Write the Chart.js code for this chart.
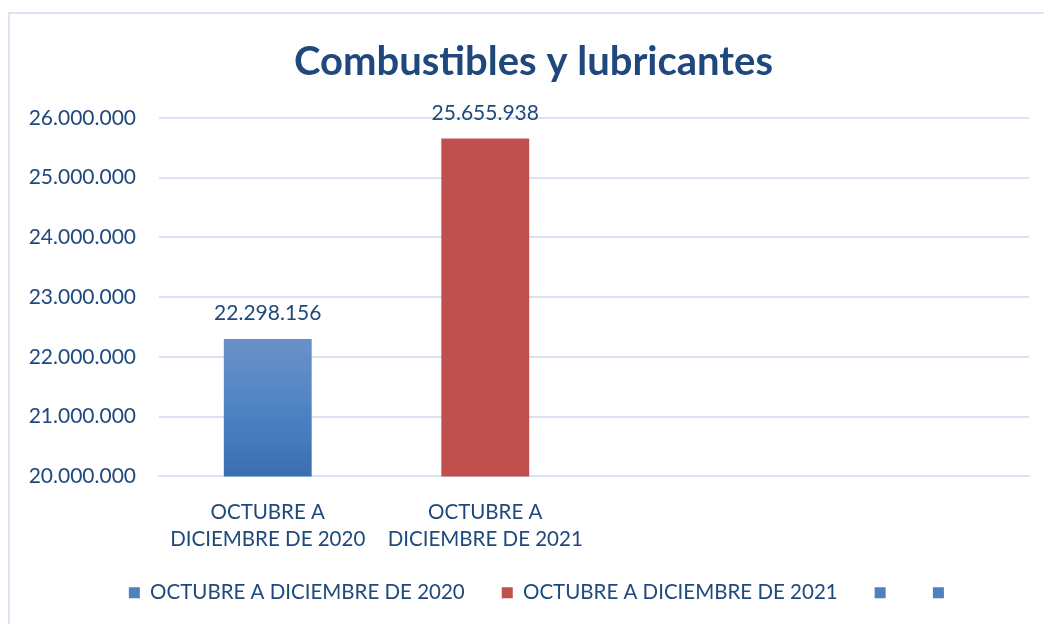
<!DOCTYPE html>
<html>
<head>
<meta charset="utf-8">
<script src="https://cdn.jsdelivr.net/npm/chart.js@4"></script>
<style>
    html, body { margin: 0; padding: 0; background: #fff; overflow: hidden; }
    #box {
        position: absolute; left: 8px; top: 12px;
        width: 1052px; height: 612px;
        border-left: 2px solid #dce6f2; border-top: 2px solid #dce6f2;
    }
    #box canvas { display: block; }
</style>
</head>
<body>
<div id="box"><canvas id="chart" width="1050" height="610"></canvas></div>
<script>
    // Datos del gráfico
    const categorias = [
        ['OCTUBRE A', 'DICIEMBRE DE 2020'],
        ['OCTUBRE A', 'DICIEMBRE DE 2021'],
        '',
        ''
    ];
    const leyenda = ['OCTUBRE A DICIEMBRE DE 2020', 'OCTUBRE A DICIEMBRE DE 2021', '', ''];
    const valores = [22298156, 25655938, null, null];
    const ejeY = { min: 20000000, max: 26000000, paso: 1000000 };

    const colorTexto = '#1f497d';
    const colores = ['#4f81bd', '#c0504d', '#4f81bd', '#4f81bd'];
    const fuente = 'Lato, "Open Sans", sans-serif';

    function formato(n) {
        return String(Math.round(n)).replace(/\B(?=(\d{3})+(?!\d))/g, '.');
    }

    function colorBarra(ctx) {
        const chart = ctx.chart;
        if (ctx.dataIndex !== 0 || !chart.chartArea) return colores[ctx.dataIndex];
        const y = chart.scales.y;
        const v = valores[ctx.dataIndex];
        const g = chart.ctx.createLinearGradient(0, y.getPixelForValue(v), 0, y.getPixelForValue(ejeY.min));
        g.addColorStop(0, '#6b90c8');
        g.addColorStop(0.5, '#4f84c4');
        g.addColorStop(1, '#3a6eb0');
        return g;
    }

    // Etiquetas de valor encima de las barras
    const etiquetas = {
        id: 'etiquetas',
        afterLayout(chart) {
            // centrar título y leyenda como en el original
            chart.titleBlock.left += 14; chart.titleBlock.right += 14;
            chart.legend.left += 22; chart.legend.right += 22;
        },
        afterDatasetsDraw(chart) {
            const ctx = chart.ctx;
            const meta = chart.getDatasetMeta(0);
            ctx.save();
            ctx.font = '21px ' + fuente;
            ctx.fillStyle = colorTexto;
            ctx.textAlign = 'center';
            ctx.textBaseline = 'bottom';
            meta.data.forEach((bar, i) => {
                if (valores[i] == null) return;
                ctx.fillText(formato(valores[i]), bar.x, bar.y - 15);
            });
            ctx.restore();
        }
    };

    Chart.defaults.font.family = fuente;
    Chart.defaults.color = colorTexto;

    new Chart(document.getElementById('chart'), {
        type: 'bar',
        data: {
            labels: categorias,
            datasets: [{
                data: valores,
                backgroundColor: colorBarra,
                categoryPercentage: 1,
                barPercentage: 0.404
            }]
        },
        options: {
            responsive: false,
            animation: false,
            layout: { padding: { left: 0, right: 31, top: 0, bottom: 11 } },
            plugins: {
                title: {
                    display: true,
                    text: 'Combustibles y lubricantes',
                    color: colorTexto,
                    font: { size: 40, weight: 'bold' },
                    padding: { top: 24, bottom: 32 }
                },
                legend: {
                    position: 'bottom',
                    labels: {
                        boxWidth: 11,
                        boxHeight: 11,
                        padding: 37,
                        color: colorTexto,
                        font: { size: 20.5 },
                        generateLabels: () => leyenda.map((t, i) => ({
                            text: t,
                            fillStyle: colores[i],
                            strokeStyle: colores[i],
                            fontColor: colorTexto,
                            lineWidth: 0,
                            index: i
                        }))
                    }
                },
                tooltip: { enabled: false }
            },
            scales: {
                x: {
                    afterFit: (s) => {
                        s.height -= 29;
                        s._computeLabelArea = () => null; // no recortar las etiquetas
                    },
                    grid: { display: false, drawTicks: false },
                    border: { color: '#d9e3f1', width: 2 },
                    ticks: {
                        padding: 22,
                        font: { size: 20.5, lineHeight: 1.32 },
                        color: colorTexto,
                        maxRotation: 0,
                        autoSkip: false
                    }
                },
                y: {
                    min: ejeY.min,
                    max: ejeY.max,
                    afterFit: (s) => { s.width = 149; },
                    grid: { color: '#d9e3f1', lineWidth: 2, drawTicks: false },
                    border: { display: false },
                    ticks: {
                        stepSize: ejeY.paso,
                        padding: 23,
                        font: { size: 21 },
                        color: colorTexto,
                        callback: (v) => formato(v)
                    }
                }
            }
        },
        plugins: [etiquetas]
    });
</script>
</body>
</html>
